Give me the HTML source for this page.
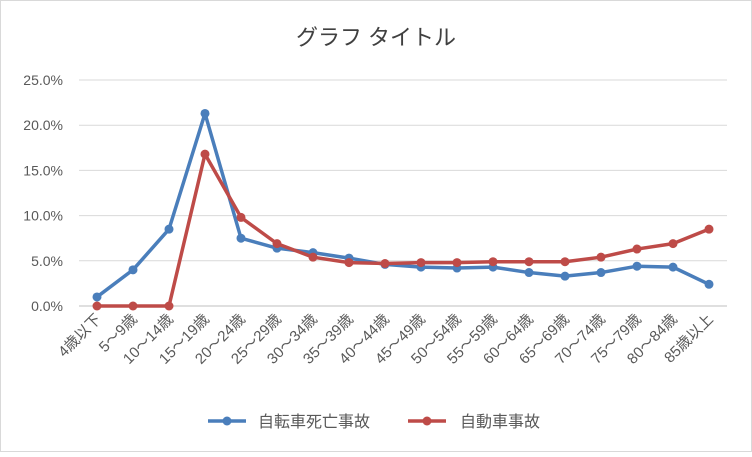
<!DOCTYPE html>
<html><head><meta charset="utf-8">
<style>
body{margin:0;background:#fff;}
svg text{font-family:"Liberation Sans","Noto Sans CJK JP",sans-serif;}
</style></head>
<body>
<svg id="chart" width="752" height="452" xmlns="http://www.w3.org/2000/svg">
<rect x="0.5" y="0.5" width="751" height="451" fill="#fff" stroke="#d9d9d9"/>
<text x="376" y="45" text-anchor="middle" font-size="22" fill="#404040">グラフ タイトル</text>
<g id="grid"></g><g id="ylabels"></g><g id="xlabels"></g><g id="series"></g>
<g>
<g>
<line x1="208" y1="421" x2="246" y2="421" stroke="#4a7ebb" stroke-width="3.5"/>
<circle cx="227" cy="421" r="4.5" fill="#4a7ebb"/>
<text x="258" y="427" font-size="16" fill="#595959">自転車死亡事故</text></g>
<g>
<line x1="408" y1="421" x2="446" y2="421" stroke="#be4b48" stroke-width="3.5"/>
<circle cx="427" cy="421" r="4.5" fill="#be4b48"/>
<text x="460" y="427" font-size="16" fill="#595959">自動車事故</text></g>
</g>
</svg>
<script>
const categories=["4歳以下","5～9歳","10～14歳","15～19歳","20～24歳","25～29歳","30～34歳","35～39歳","40～44歳","45～49歳","50～54歳","55～59歳","60～64歳","65～69歳","70～74歳","75～79歳","80～84歳","85歳以上"];
const bicycleValues=[1.0,4.0,8.5,21.3,7.5,6.4,5.9,5.3,4.6,4.3,4.2,4.3,3.7,3.3,3.7,4.4,4.3,2.4];
const carValues=[0,0,0,16.8,9.8,6.9,5.4,4.8,4.7,4.8,4.8,4.9,4.9,4.9,5.4,6.3,6.9,8.5];
const yTicks=[0,5,10,15,20,25];
const yTickLabels=["0.0%","5.0%","10.0%","15.0%","20.0%","25.0%"];
const NS="http://www.w3.org/2000/svg";
const x0=97,x1=709,yBase=306,yTop=80,yMax=25;
const xs=i=>x0+i*(x1-x0)/(categories.length-1);
const ys=v=>yBase-(v/yMax)*(yBase-yTop);
function mk(t,a,p){const e=document.createElementNS(NS,t);for(const k in a)e.setAttribute(k,a[k]);p.appendChild(e);return e;}
const grid=document.getElementById('grid'),yl=document.getElementById('ylabels'),xl=document.getElementById('xlabels'),se=document.getElementById('series');
yTicks.forEach((t,i)=>{
 const l=mk('line',{x1:79,x2:727,y1:ys(t),y2:ys(t),stroke:t===0?'#bfbfbf':'#d9d9d9','stroke-width':1},grid);
 
 
 const tx=mk('text',{x:63,y:ys(t)+5,'text-anchor':'end','font-size':14,fill:'#595959'},yl);
 tx.textContent=yTickLabels[i];
 
 
});
categories.forEach((c,i)=>{
 const x=xs(i)+5,y=320;
 const tx=mk('text',{x:x,y:y,'text-anchor':'end','font-size':15,fill:'#595959',transform:`rotate(-45 ${x} ${y})`},xl);
 tx.textContent=c;
 
 
});
function draw(vals,color,name){
 const g=mk('g',{},se);
 
 
 const pl=mk('polyline',{points:vals.map((v,i)=>xs(i)+','+ys(v)).join(' '),fill:'none',stroke:color,'stroke-width':3.5,'stroke-linejoin':'round'},g);
 
 
 vals.forEach((v,i)=>{
  const c=mk('circle',{cx:xs(i),cy:ys(v),r:4.5,fill:color},g);
  
  
 });
}
draw(bicycleValues,'#4a7ebb','bicycle-series');
draw(carValues,'#be4b48','car-series');
</script>
</body></html>
